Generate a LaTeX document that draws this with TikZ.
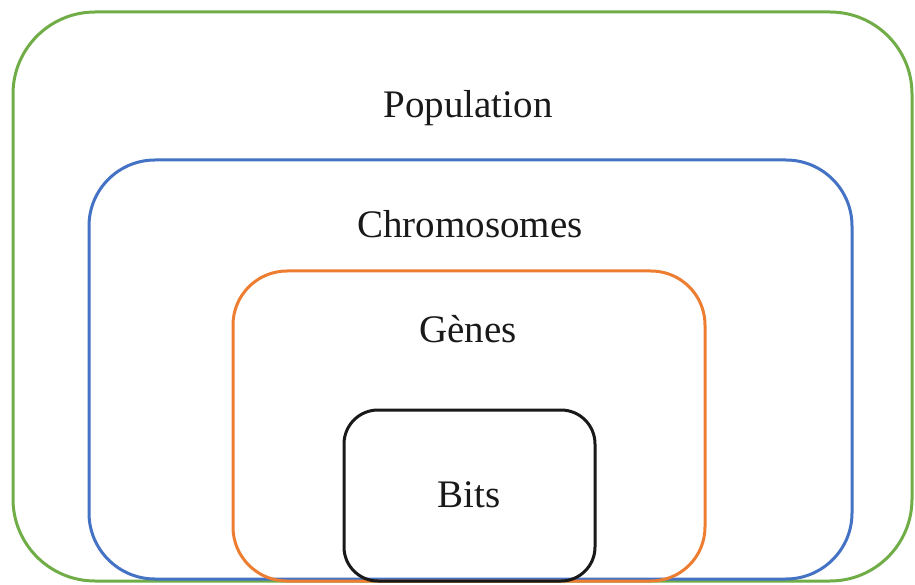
\documentclass[tikz,border=0pt]{standalone}
\usepackage{fontspec}
\setmainfont{Liberation Serif}
\definecolor{popgreen}{HTML}{70AD47}
\definecolor{chrblue}{HTML}{4472C4}
\definecolor{genorange}{HTML}{ED7D31}
\begin{document}
\begin{tikzpicture}[x=1pt,y=-1pt,
  box/.style={line width=3pt},
  lbl/.style={font=\fontsize{39}{41}\selectfont, text=black!90, inner sep=0pt}]
\useasboundingbox (0,0) rectangle (915,585);
\fill[white] (0,0) rectangle (915,585);
\draw[box, popgreen, rounded corners=82pt] (13,12) rectangle (912,581);
\draw[box, chrblue, rounded corners=66pt] (89,160) rectangle (852,579);
\draw[box, genorange, rounded corners=54pt] (233,271) rectangle (705,581);
\draw[box, black!90, rounded corners=34pt] (344,410) rectangle (595,581);
\node[lbl] (pop) at (468,108) {Population};
\node[lbl] (chr) at (470,224) {Chromosomes};
\node[lbl] (gen) at (468,329) {Gènes};
\node[lbl] (bits) at (469,495) {Bits};
\end{tikzpicture}
\end{document}
